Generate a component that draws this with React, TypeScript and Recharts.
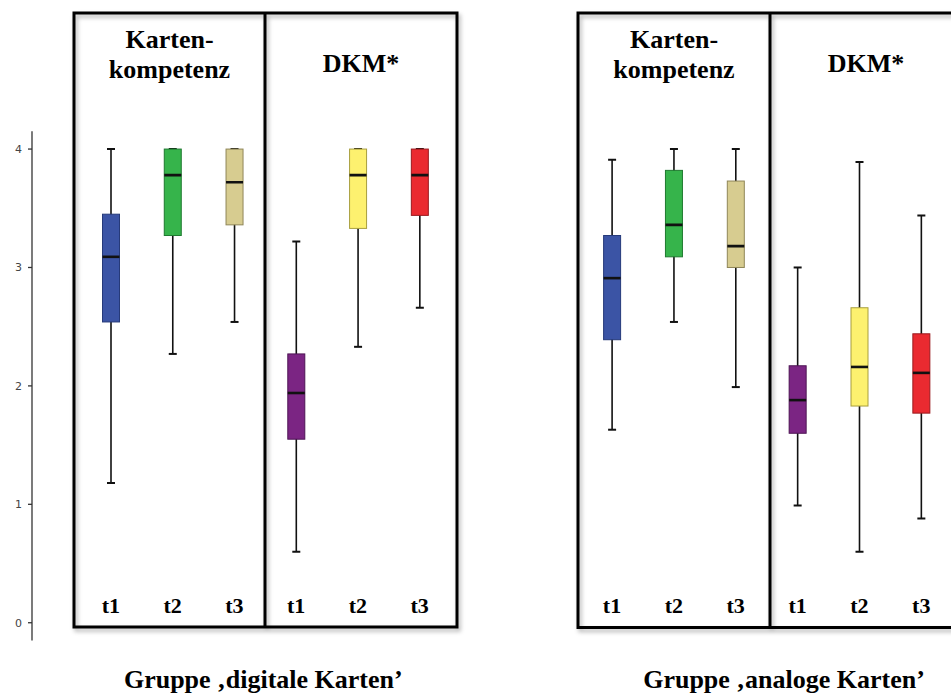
import React from 'react';
import { ComposedChart, Bar, XAxis, YAxis } from 'recharts';

const slots = ['K-t1', 'K-t2', 'K-t3', 'D-t1', 'D-t2', 'D-t3'];
const tickLabels = ['t1', 't2', 't3', 't1', 't2', 't3'];
const fills = ['#3b54a5', '#36b44b', '#d7cc90', '#7b2583', '#fdf16f', '#ea2a30'];
const strokes = ['#263a7a', '#1f7a30', '#8f8658', '#4e1554', '#a89e3e', '#9a1a1e'];

// Gruppe 'digitale Karten'
const digMin = [1.18, 2.27, 2.54, 0.6, 2.33, 2.66];
const digQ1 = [2.54, 3.27, 3.36, 1.55, 3.33, 3.44];
const digMed = [3.09, 3.78, 3.72, 1.94, 3.78, 3.78];
const digQ3 = [3.45, 4.0, 4.0, 2.27, 4.0, 4.0];
const digMax = [4.0, 4.0, 4.0, 3.22, 4.0, 4.0];

// Gruppe 'analoge Karten'
const anaMin = [1.63, 2.54, 1.99, 0.99, 0.6, 0.88];
const anaQ1 = [2.39, 3.09, 3.0, 1.6, 1.83, 1.77];
const anaMed = [2.91, 3.36, 3.18, 1.88, 2.16, 2.11];
const anaQ3 = [3.27, 3.82, 3.73, 2.17, 2.66, 2.44];
const anaMax = [3.91, 4.0, 4.0, 3.0, 3.89, 3.44];

const yTicks = [0, 1, 2, 3, 4];

const makeRows = (mn: number[], q1: number[], md: number[], q3: number[], mx: number[]) =>
  slots.map((slot, i) => ({
    slot,
    label: tickLabels[i],
    range: [mn[i], mx[i]],
    q1: q1[i],
    med: md[i],
    q3: q3[i],
    fill: fills[i],
    stroke: strokes[i],
  }));

const digRows = makeRows(digMin, digQ1, digMed, digQ3, digMax);
const anaRows = makeRows(anaMin, anaQ1, anaMed, anaQ3, anaMax);

const serif = '"Liberation Serif", "Times New Roman", serif';

const BoxShape = (props: any) => {
  const { x, y, width, height, payload } = props;
  if (!payload) return null;
  const [lo, hi] = payload.range;
  const top = Math.min(y, y + height);
  const h = Math.abs(height);
  const px = (v: number) => top + ((hi - v) / (hi - lo)) * h;
  const cx = x + width / 2;
  const bw = 17;
  const cap = 8;
  const yq3 = px(payload.q3);
  const yq1 = px(payload.q1);
  const ymd = px(payload.med);
  return (
    <g>
      <line x1={cx} x2={cx} y1={top} y2={top + h} stroke="#111" strokeWidth={1.6} />
      <line x1={cx - cap / 2} x2={cx + cap / 2} y1={top} y2={top} stroke="#111" strokeWidth={2} />
      <line x1={cx - cap / 2} x2={cx + cap / 2} y1={top + h} y2={top + h} stroke="#111" strokeWidth={2} />
      <rect x={cx - bw / 2} y={yq3} width={bw} height={yq1 - yq3} fill={payload.fill} stroke={payload.stroke} strokeWidth={1} />
      <line x1={cx - bw / 2} x2={cx + bw / 2} y1={ymd} y2={ymd} stroke="#111" strokeWidth={2.6} />
    </g>
  );
};

// t1/t2/t3 labels sit inside the frame, above the axis position
const TTick = (props: any) => {
  const { x, index } = props;
  return (
    <text x={x} y={613} textAnchor="middle" fontFamily={serif} fontWeight="bold" fontSize={22} fill="#000">
      {tickLabels[index % tickLabels.length]}
    </text>
  );
};

const Titles = ({ left, mid, right }: { left: number; mid: number; right: number }) => (
  <g fontFamily={serif} fontWeight="bold" fontSize={26} fill="#000" textAnchor="middle">
    <text x={(left + mid) / 2} y={48}>Karten-</text>
    <text x={(left + mid) / 2} y={78}>kompetenz</text>
    <text x={(mid + right) / 2} y={71.5}>DKM*</text>
  </g>
);

export default function App() {
  return (
    <div style={{ position: 'absolute', left: 0, top: 0, width: 951, height: 693, overflow: 'hidden', background: '#fff' }}>
      <div style={{ position: 'absolute', left: 0, top: 0 }}>
        <ComposedChart width={460} height={693} data={digRows} margin={{ top: 131.3, right: 9.4, bottom: 22.5, left: 0 }} barCategoryGap={0}>
          <YAxis
            type="number"
            width={32}
            domain={[-0.15, 4.15]}
            ticks={yTicks}
            allowDataOverflow
            tickSize={4}
            tickMargin={6}
            tick={{ fontSize: 11, fill: '#444', fontFamily: 'DejaVu Sans' }}
            axisLine={{ stroke: '#333', strokeWidth: 1.3 }}
            tickLine={{ stroke: '#333', strokeWidth: 1.3 }}
          />
          <XAxis dataKey="slot" height={30} axisLine={false} tickLine={false} interval={0} padding={{ left: 48, right: 0 }} tick={TTick} />
          <Bar dataKey="range" shape={<BoxShape />} isAnimationActive={false} />
        </ComposedChart>
      </div>
      <div style={{ position: 'absolute', left: 570, top: 0 }}>
        <ComposedChart width={390} height={693} data={anaRows} margin={{ top: 131.3, right: 7.8, bottom: 22.5, left: 11.1 }} barCategoryGap={0}>
          <YAxis type="number" hide domain={[-0.15, 4.15]} ticks={yTicks} allowDataOverflow />
          <XAxis dataKey="slot" height={30} axisLine={false} tickLine={false} interval={0} tick={TTick} />
          <Bar dataKey="range" shape={<BoxShape />} isAnimationActive={false} />
        </ComposedChart>
      </div>
      <svg width={951} height={693} style={{ position: 'absolute', left: 0, top: 0, pointerEvents: 'none' }}>
        <defs>
          <filter id="shadow" x="-5%" y="-5%" width="115%" height="115%">
            <feDropShadow dx={2} dy={3} stdDeviation={2} floodColor="#000" floodOpacity={0.3} />
          </filter>
        </defs>
        <g fill="none" stroke="#000" strokeWidth={3} filter="url(#shadow)">
          <rect x={74} y={13} width={383} height={614} />
          <line x1={265} x2={265} y1={13} y2={627} />
          <rect x={578} y={13} width={390} height={614.5} />
          <line x1={770} x2={770} y1={13} y2={627.5} />
        </g>
        <Titles left={74} mid={265} right={457} />
        <Titles left={578} mid={770} right={962} />
        <g fontFamily={serif} fontWeight="bold" fontSize={26} fill="#000" textAnchor="middle">
          <text x={263.3} y={688}>Gruppe ‚digitale Karten’</text>
          <text x={784} y={688}>Gruppe ‚analoge Karten’</text>
        </g>
      </svg>
    </div>
  );
}
